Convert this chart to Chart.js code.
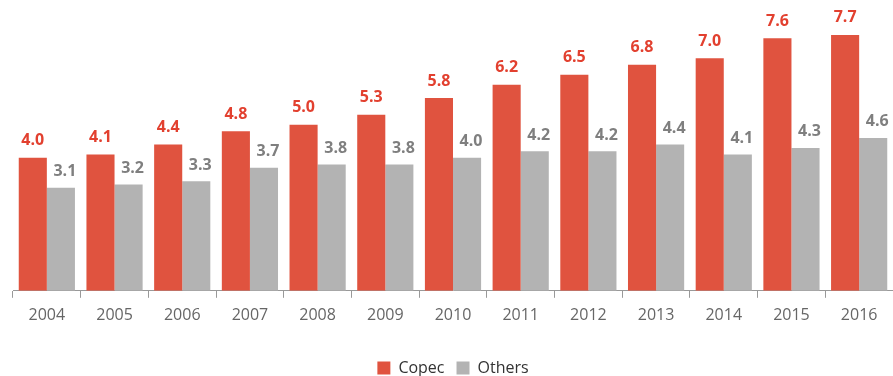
<!DOCTYPE html>
<html>
<head>
<meta charset="utf-8">
<script src="https://cdn.jsdelivr.net/npm/chart.js@4"></script>
<style>
  html, body { margin: 0; padding: 0; background: #fff; }
  #wrap { width: 893px; height: 376px; }
</style>
</head>
<body>
<div id="wrap"><canvas id="chart"></canvas></div>
<script>
const years = ['2004','2005','2006','2007','2008','2009','2010','2011','2012','2013','2014','2015','2016'];
const copec = [4.0, 4.1, 4.4, 4.8, 5.0, 5.3, 5.8, 6.2, 6.5, 6.8, 7.0, 7.6, 7.7];
const others = [3.1, 3.2, 3.3, 3.7, 3.8, 3.8, 4.0, 4.2, 4.2, 4.4, 4.1, 4.3, 4.6];

// draws value labels over each bar (no datalabels plugin offline)
const valueLabels = {
  id: 'valueLabels',
  afterDatasetsDraw(chart) {
    const ctx = chart.ctx;
    ctx.save();
    ctx.font = 'bold 16px "Open Sans"';
    ctx.textAlign = 'center';
    ctx.textBaseline = 'bottom';
    chart.data.datasets.forEach((ds, i) => {
      const meta = chart.getDatasetMeta(i);
      ctx.fillStyle = i === 0 ? '#e2402f' : '#7f7f7f';
      meta.data.forEach((bar, j) => {
        const dx = i === 0 ? 0 : 4;
        const dy = i === 0 ? 9 : 8;
        ctx.fillText(ds.data[j].toFixed(1), bar.x + dx, bar.y - dy);
      });
    });
    ctx.restore();
  }
};

// pull the legend down closer to the bottom edge
const legendShift = {
  id: 'legendShift',
  afterInit(chart) {
    const lg = chart.legend;
    const fit = lg.fit;
    lg.fit = function () {
      fit.call(this);
      this.height -= 10;
    };
  }
};

new Chart(document.getElementById('chart'), {
  type: 'bar',
  data: {
    labels: years,
    datasets: [
      { label: 'Copec', data: copec, backgroundColor: '#e0533f', barPercentage: 1, categoryPercentage: 0.83 },
      { label: 'Others', data: others, backgroundColor: '#b3b3b3', barPercentage: 1, categoryPercentage: 0.83 }
    ]
  },
  options: {
    responsive: true,
    maintainAspectRatio: false,
    animation: false,
    layout: { padding: { left: 13, right: 0, top: 0, bottom: 0 } },
    plugins: {
      legend: {
        position: 'bottom',
        labels: {
          font: { family: 'Open Sans', size: 16 },
          color: '#333',
          boxWidth: 13,
          boxHeight: 13,
          padding: 12
        }
      },
      tooltip: { enabled: false }
    },
    scales: {
      x: {
        grid: { offset: true, drawOnChartArea: false, drawTicks: true, tickLength: 7, color: '#999' },
        border: { display: true, color: '#999' },
        ticks: { font: { family: 'Open Sans', size: 16 }, color: '#666', padding: 8 },
        afterFit(scale) { scale.height += 15; }
      },
      y: {
        display: false,
        min: 0,
        max: 8.75
      }
    }
  },
  plugins: [valueLabels, legendShift]
});
</script>
</body>
</html>
